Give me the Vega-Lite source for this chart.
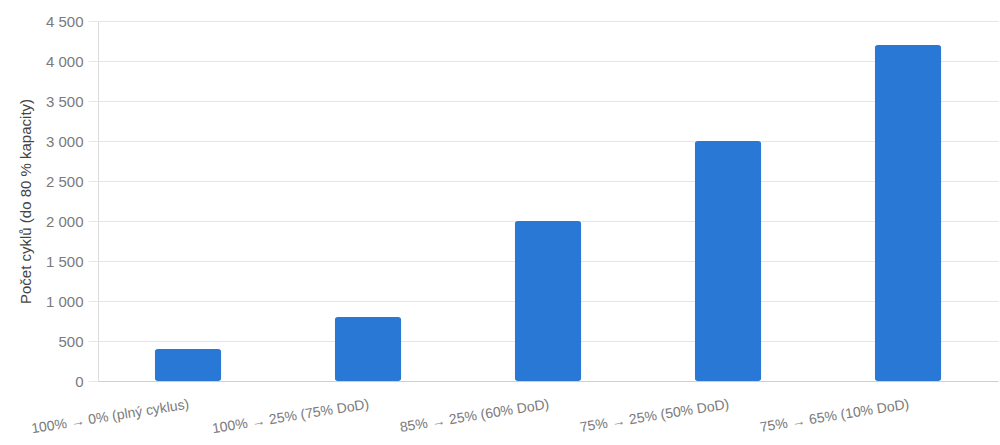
{
  "$schema": "https://vega.github.io/schema/vega-lite/v6.json",
  "width": 1000,
  "height": 445,
  "autosize": {"type": "fit", "contains": "padding"},
  "padding": {"top": 14, "left": 18, "right": 2, "bottom": 9},
  "config": {
    "font": "Liberation Sans",
    "view": {"stroke": null},
    "axis": {
      "labelFont": "Liberation Sans",
      "titleFont": "Liberation Sans",
      "labelColor": "#7a7a7a",
      "labelFontSize": 15,
      "gridColor": "#e6e6e3",
      "domainColor": "#dcdcd8",
      "tickColor": "#e6e6e3"
    }
  },
  "data": {
    "values": [
      {"rezim": "100% → 0% (plný cyklus)", "cykly": 400},
      {"rezim": "100% → 25% (75% DoD)", "cykly": 800},
      {"rezim": "85% → 25% (60% DoD)", "cykly": 2000},
      {"rezim": "75% → 25% (50% DoD)", "cykly": 3000},
      {"rezim": "75% → 65% (10% DoD)", "cykly": 4200}
    ]
  },
  "mark": {"type": "bar", "color": "#2a78d6", "cornerRadius": 3},
  "encoding": {
    "x": {
      "field": "rezim",
      "type": "nominal",
      "sort": null,
      "title": null,
      "scale": {"paddingInner": 0.63, "paddingOuter": 0.315},
      "axis": {
        "labelAngle": -9,
        "labelAlign": "right",
        "labelBaseline": "top",
        "labelPadding": 16,
        "ticks": false,
        "labelFontSize": 14,
        "domainColor": "#cfcfcb"
      }
    },
    "y": {
      "field": "cykly",
      "type": "quantitative",
      "title": "Počet cyklů (do 80 % kapacity)",
      "scale": {"domain": [0, 4500]},
      "axis": {
        "values": [0, 500, 1000, 1500, 2000, 2500, 3000, 3500, 4000, 4500],
        "labelExpr": "replace(datum.label, ',', ' ')",
        "tickSize": 10,
        "labelPadding": 5,
        "titleFontSize": 15,
        "titleFontWeight": "normal",
        "titleColor": "#444444",
        "titlePadding": 12
      }
    }
  }
}
